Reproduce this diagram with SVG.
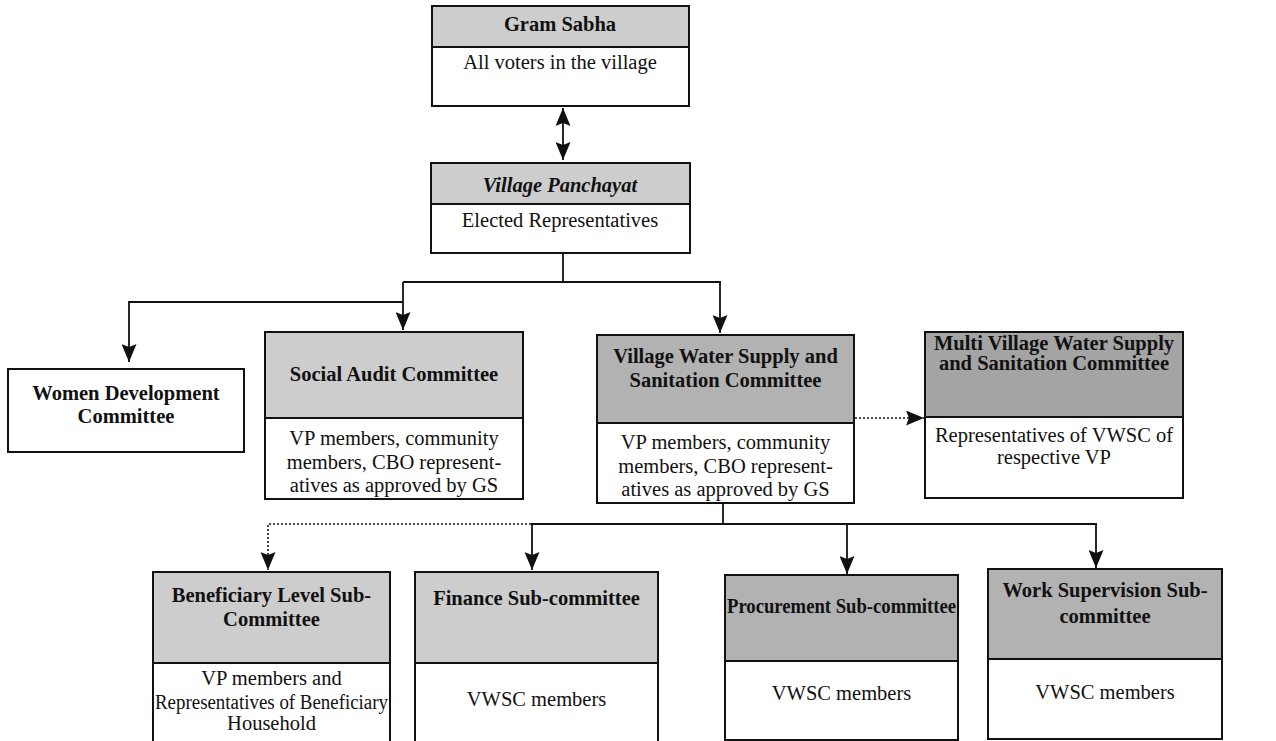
<svg xmlns="http://www.w3.org/2000/svg" width="1276" height="741" viewBox="0 0 1276 741">
<style>
  text { font-family: "Liberation Serif", "Times New Roman", serif; font-size: 20.5px; fill: #111; text-anchor: middle; }
  .b { font-weight: bold; }
  .bi { font-weight: bold; font-style: italic; }
  .hl { fill: #cdcdcd; stroke: #111; stroke-width: 2; }
  .hd { fill: #b2b2b2; stroke: #111; stroke-width: 2; }
  .hx { fill: #a4a4a4; stroke: #111; stroke-width: 2; }
  .bd { fill: #ffffff; stroke: #111; stroke-width: 2; }
  .ln { fill: none; stroke: #111; stroke-width: 1.8; }
  .dt { fill: none; stroke: #111; stroke-width: 1.6; stroke-dasharray: 2 2; }
</style>
<defs>
  <marker id="ah" viewBox="0 0 18 15" markerWidth="18" markerHeight="15" refX="18" refY="7.5" orient="auto-start-reverse" markerUnits="userSpaceOnUse">
    <path d="M0,0 L18,7.5 L0,15 L3,7.5 z" fill="#111"/>
  </marker>
</defs>
<rect width="1276" height="741" fill="#ffffff"/>

<g id="connectors">
  <line class="ln" x1="563" y1="108" x2="563" y2="160" marker-start="url(#ah)" marker-end="url(#ah)"/>
  <line class="ln" x1="563" y1="253" x2="563" y2="282"/>
  <line class="ln" x1="403" y1="282" x2="721" y2="282"/>
  <line class="ln" x1="403" y1="282" x2="403" y2="330" marker-end="url(#ah)"/>
  <line class="ln" x1="720" y1="282" x2="720" y2="333" marker-end="url(#ah)"/>
  <polyline class="ln" points="403,302 129,302 129,362" marker-end="url(#ah)"/>
  <line class="dt" x1="855" y1="418" x2="924" y2="418" marker-end="url(#ah)"/>
  <line class="ln" x1="723" y1="503" x2="723" y2="524"/>
  <line class="ln" x1="531" y1="524" x2="1097" y2="524"/>
  <polyline class="dt" points="531,524 268,524 268,570" marker-end="url(#ah)"/>
  <line class="ln" x1="532" y1="524" x2="532" y2="570" marker-end="url(#ah)"/>
  <line class="ln" x1="847" y1="524" x2="847" y2="574" marker-end="url(#ah)"/>
  <line class="ln" x1="1096" y1="524" x2="1096" y2="568" marker-end="url(#ah)"/>
</g>

<g id="gram-sabha">
  <rect class="hl" x="432" y="6" width="257" height="41"/>
  <rect class="bd" x="432" y="47" width="257" height="59"/>
  <text class="b" x="560" y="31">Gram Sabha</text>
  <text x="560" y="69">All voters in the village</text>
</g>

<g id="village-panchayat">
  <rect class="hl" x="431" y="163" width="259" height="41"/>
  <rect class="bd" x="431" y="204" width="259" height="49"/>
  <text class="bi" x="560" y="192">Village Panchayat</text>
  <text x="560" y="227">Elected Representatives</text>
</g>

<g id="women-development">
  <rect class="bd" x="8" y="369" width="236" height="83"/>
  <text class="b" x="126" y="400">Women Development</text>
  <text class="b" x="126" y="423">Committee</text>
</g>

<g id="social-audit">
  <rect class="hl" x="265" y="332" width="258" height="86"/>
  <rect class="bd" x="265" y="418" width="258" height="81"/>
  <text class="b" x="394" y="381">Social Audit Committee</text>
  <text x="394" y="445">VP members, community</text>
  <text x="394" y="469">members, CBO represent-</text>
  <text x="394" y="492">atives as approved by GS</text>
</g>

<g id="vwsc">
  <rect class="hd" x="597" y="335" width="257" height="88"/>
  <rect class="bd" x="597" y="423" width="257" height="80"/>
  <text class="b" x="725.5" y="363">Village Water Supply and</text>
  <text class="b" x="725.5" y="387">Sanitation Committee</text>
  <text x="725.5" y="449">VP members, community</text>
  <text x="725.5" y="473">members, CBO represent-</text>
  <text x="725.5" y="496">atives as approved by GS</text>
</g>

<g id="multi-village">
  <rect class="hx" x="925" y="332" width="258" height="85"/>
  <rect class="bd" x="925" y="417" width="258" height="81"/>
  <text class="b" x="1054" y="350">Multi Village Water Supply</text>
  <text class="b" x="1054" y="370">and Sanitation Committee</text>
  <text x="1054" y="442">Representatives of VWSC of</text>
  <text x="1054" y="464">respective VP</text>
</g>

<g id="beneficiary">
  <rect class="hl" x="153" y="572" width="237" height="91"/>
  <rect class="bd" x="153" y="663" width="237" height="84"/>
  <text class="b" x="271.5" y="602">Beneficiary Level Sub-</text>
  <text class="b" x="271.5" y="626">Committee</text>
  <text x="271.5" y="685">VP members and</text>
  <text x="271.5" y="709" textLength="233" lengthAdjust="spacingAndGlyphs">Representatives of Beneficiary</text>
  <text x="271.5" y="730">Household</text>
</g>

<g id="finance">
  <rect class="hl" x="415" y="572" width="243" height="91"/>
  <rect class="bd" x="415" y="663" width="243" height="84"/>
  <text class="b" x="536.5" y="605">Finance Sub-committee</text>
  <text x="536.5" y="706">VWSC members</text>
</g>

<g id="procurement">
  <rect class="hd" x="725" y="575" width="233" height="86"/>
  <rect class="bd" x="725" y="661" width="233" height="79"/>
  <text class="b" x="841.5" y="613" textLength="229" lengthAdjust="spacingAndGlyphs">Procurement Sub-committee</text>
  <text x="841.5" y="700">VWSC members</text>
</g>

<g id="work-supervision">
  <rect class="hd" x="988" y="569" width="234" height="90"/>
  <rect class="bd" x="988" y="659" width="234" height="80"/>
  <text class="b" x="1105" y="597">Work Supervision Sub-</text>
  <text class="b" x="1105" y="623">committee</text>
  <text x="1105" y="699">VWSC members</text>
</g>
</svg>
